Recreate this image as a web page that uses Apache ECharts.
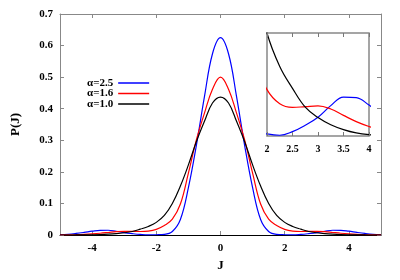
<!DOCTYPE html>
<html>
<head>
<meta charset="utf-8">
<script src="https://cdn.jsdelivr.net/npm/echarts@6/dist/echarts.min.js"></script>
<style>html,body{margin:0;padding:0;background:#fff}#c{width:400px;height:280px}</style>
</head>
<body>
<div id="c"></div>
<script>
// J values (x)
var J = [-5,-4.75,-4.5,-4.25,-4,-3.75,-3.5,-3.25,-3,-2.75,-2.5,-2.25,-2,-1.75,-1.5,-1.25,-1,-0.75,-0.5,-0.25,0,
         0.25,0.5,0.75,1,1.25,1.5,1.75,2,2.25,2.5,2.75,3,3.25,3.5,3.75,4,4.25,4.5,4.75,5];
// P(J), alpha = 2.5
var pA25 = [0.0010,0.0024,0.0050,0.0083,0.0120,0.0149,0.0151,0.0118,0.0073,0.0042,0.0017,0.0003,0.0008,0.002,0.011,0.049,0.150,0.285,0.438,0.574,0.625,
            0.574,0.438,0.285,0.150,0.049,0.011,0.002,0.0008,0.0003,0.0017,0.0042,0.0073,0.0118,0.0151,0.0149,0.0120,0.0083,0.0050,0.0024,0.0010];
// P(J), alpha = 1.6
var pA16 = [0.0003,0.0006,0.0012,0.0022,0.0037,0.0056,0.0080,0.0105,0.0117,0.0114,0.0111,0.0125,0.0180,0.030,0.050,0.098,0.196,0.302,0.386,0.462,0.500,
            0.462,0.386,0.302,0.196,0.098,0.050,0.030,0.0180,0.0125,0.0111,0.0114,0.0117,0.0105,0.0080,0.0056,0.0037,0.0022,0.0012,0.0006,0.0003];
// P(J), alpha = 1.0
var pA10 = [0.0,0.0,0.0001,0.0002,0.0005,0.0012,0.0025,0.0044,0.0072,0.0112,0.0185,0.027,0.040,0.062,0.100,0.155,0.222,0.296,0.360,0.418,0.437,
            0.418,0.360,0.296,0.222,0.155,0.100,0.062,0.040,0.027,0.0185,0.0112,0.0072,0.0044,0.0025,0.0012,0.0005,0.0002,0.0001,0.0,0.0];
var names = ['α=2.5','α=1.6','α=1.0'];
var xTicks = [-4,-2,0,2,4];

function pairs(ys, lo, hi){
  var out = [];
  for (var i=0;i<J.length;i++){ if (J[i]>=lo && J[i]<=hi) out.push([J[i], ys[i]]); }
  return out;
}
var colors = ['#0000ff','#ff0000','#000000'];
var sets = [pA25,pA16,pA10];
var font = {fontFamily:'Liberation Serif', fontWeight:'bold', fontSize:11, color:'#000'};
var gray = '#888888';

var series = [];
for (var k=0;k<3;k++){
  series.push({name:names[k], type:'line', xAxisIndex:0, yAxisIndex:0, data:pairs(sets[k],-5,5),
    smooth:0.4, showSymbol:false, color:colors[k], lineStyle:{width:1.2,color:colors[k]}, silent:true, z:3});
}
for (var k=0;k<3;k++){
  series.push({name:names[k], type:'line', xAxisIndex:2, yAxisIndex:2, data:pairs(sets[k],1.5,4.5),
    smooth:0.4, showSymbol:false, color:colors[k], lineStyle:{width:1.2,color:colors[k]}, silent:true, clip:true, z:5});
}

var chart = echarts.init(document.getElementById('c'), null, {renderer:'canvas'});
chart.setOption({
  animation:false,
  backgroundColor:'#fff',
  grid:[
    {left:60, right:19, top:14, bottom:45},
    {left:267, right:31, top:33, bottom:144, show:true, backgroundColor:'#fff', borderColor:gray, borderWidth:1.5, z:1}
  ],
  legend:{
    data:names, orient:'vertical', left:87, top:77, align:'right', icon:'rect',
    itemWidth:31, itemHeight:1.5, itemGap:-1.5, padding:[0,0,0,0], textStyle:Object.assign({}, font, {fontSize:11, lineHeight:12})
  },
  xAxis:[
    {gridIndex:0, type:'value', min:-5, max:5, interval:1, position:'bottom',
     name:'J', nameLocation:'middle', nameGap:22, nameTextStyle:Object.assign({}, font, {fontSize:13}),
     axisLine:{show:true, onZero:false, lineStyle:{color:'#000', width:1}},
     axisTick:{show:true, inside:true, length:4, customValues:xTicks, lineStyle:{color:gray}},
     axisLabel:Object.assign({show:true, margin:8, customValues:xTicks}, font),
     splitLine:{show:false}},
    {gridIndex:0, type:'value', min:-5, max:5, interval:1, position:'top',
     axisLine:{show:true, onZero:false, lineStyle:{color:gray, width:1}},
     axisTick:{show:true, inside:true, length:4, customValues:xTicks, lineStyle:{color:gray}},
     axisLabel:{show:false}, splitLine:{show:false}},
    {gridIndex:1, type:'value', min:2, max:4, interval:0.5, position:'bottom', z:6,
     axisLine:{show:false, onZero:false},
     axisTick:{show:true, inside:true, length:4, lineStyle:{color:'#777', width:1}},
     axisLabel:Object.assign({show:true, margin:8}, font, {fontSize:10}),
     splitLine:{show:false}},
    {gridIndex:1, type:'value', min:2, max:4, interval:0.5, position:'top', z:6,
     axisLine:{show:false, onZero:false},
     axisTick:{show:true, inside:true, length:4, lineStyle:{color:'#777', width:1}},
     axisLabel:{show:false}, splitLine:{show:false}}
  ],
  yAxis:[
    {gridIndex:0, type:'value', min:0, max:0.7, interval:0.1, position:'left',
     name:'P(J)', nameLocation:'middle', nameGap:38, nameRotate:90, nameTextStyle:Object.assign({}, font, {fontSize:13}),
     axisLine:{show:true, onZero:false, lineStyle:{color:gray, width:1}},
     axisTick:{show:true, inside:true, length:4, lineStyle:{color:gray}},
     axisLabel:Object.assign({show:true, margin:7}, font),
     splitLine:{show:false}},
    {gridIndex:0, type:'value', min:0, max:0.7, interval:0.1, position:'right',
     axisLine:{show:true, onZero:false, lineStyle:{color:gray, width:1}},
     axisTick:{show:true, inside:true, length:4, lineStyle:{color:gray}},
     axisLabel:{show:false}, splitLine:{show:false}},
    {gridIndex:1, type:'value', min:0, max:0.04, interval:0.01, position:'left',
     axisLine:{show:false, onZero:false}, axisTick:{show:false}, axisLabel:{show:false}, splitLine:{show:false}}
  ],
  series:series
});
</script>
</body>
</html>
